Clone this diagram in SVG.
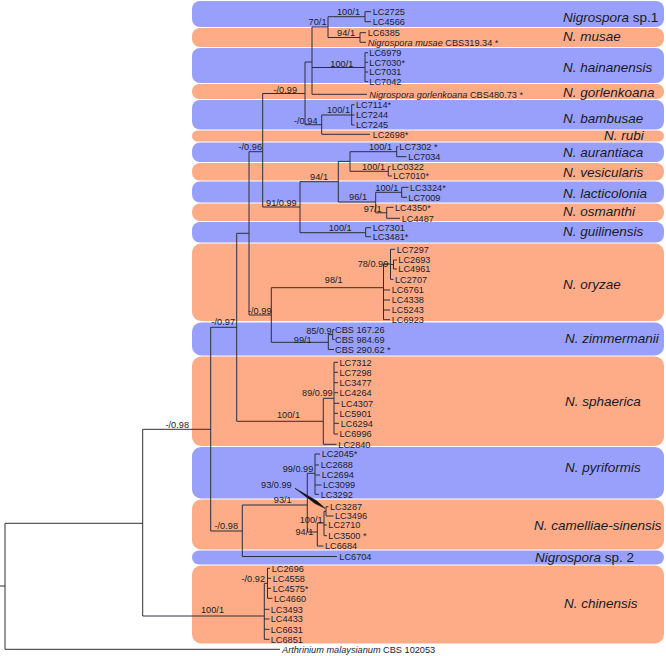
<svg xmlns="http://www.w3.org/2000/svg" width="666" height="656" viewBox="0 0 666 656">
<style>
.b{fill:#98a0fc}.o{fill:#fdac87}
.sp{font-family:"Liberation Sans",Arial,sans-serif;font-size:13.5px;font-style:italic;fill:#1a1a24}
.up{font-style:normal}
.lf{font-family:"Liberation Sans",Arial,sans-serif;font-size:9.2px;fill:#1c1c2c}
.sv{font-family:"Liberation Sans",Arial,sans-serif;font-size:9.2px;fill:#1c1c1c;text-anchor:end}
.it{font-style:italic}
.t{stroke:#2e2e3a;stroke-width:1;fill:none}
</style>
<rect width="666" height="656" fill="#fff"/>
<g id="bands">
<g id="nigrospora-sp1"><rect class="b" x="192" y="1" width="472" height="26" rx="8"/><text class="sp" x="563" y="21.8">Nigrospora<tspan class="up"> sp.1</tspan></text></g>
<g id="n-musae"><rect class="o" x="192" y="28" width="472" height="19" rx="8"/><text class="sp" x="563" y="40.8">N. musae</text></g>
<g id="n-hainanensis"><rect class="b" x="192" y="48" width="472" height="35" rx="8"/><text class="sp" x="563" y="71.8">N. hainanensis</text></g>
<g id="n-gorlenkoana"><rect class="o" x="192" y="84" width="472" height="15" rx="7"/><text class="sp" x="563" y="96.8">N. gorlenkoana</text></g>
<g id="n-bambusae"><rect class="b" x="192" y="100" width="472" height="29.5" rx="8"/><text class="sp" x="563" y="122.8">N. bambusae</text></g>
<g id="n-rubi"><rect class="o" x="192" y="130.5" width="472" height="11" rx="5.5"/><text class="sp" x="604" y="139.8">N. rubi</text></g>
<g id="n-aurantiaca"><rect class="b" x="192" y="142.5" width="472" height="19.5" rx="8"/><text class="sp" x="563" y="156.8">N. aurantiaca</text></g>
<g id="n-vesicularis"><rect class="o" x="192" y="163" width="472" height="17.5" rx="8"/><text class="sp" x="563" y="176.8">N. vesicularis</text></g>
<g id="n-lacticolonia"><rect class="b" x="192" y="181.5" width="472" height="21" rx="8"/><text class="sp" x="563" y="197.8">N. lacticolonia</text></g>
<g id="n-osmanthi"><rect class="o" x="192" y="203.5" width="472" height="17.5" rx="8"/><text class="sp" x="563" y="215.8">N. osmanthi</text></g>
<g id="n-guilinensis"><rect class="b" x="192" y="222" width="472" height="20.5" rx="8"/><text class="sp" x="563" y="235.8">N. guilinensis</text></g>
<g id="n-oryzae"><rect class="o" x="192" y="243.5" width="472" height="77.5" rx="9"/><text class="sp" x="563" y="288.8">N. oryzae</text></g>
<g id="n-zimmermanii"><rect class="b" x="192" y="322.5" width="472" height="33" rx="9"/><text class="sp" x="565" y="342.8">N. zimmermanii</text></g>
<g id="n-sphaerica"><rect class="o" x="192" y="356.5" width="472" height="89.5" rx="9"/><text class="sp" x="565" y="405.8">N. sphaerica</text></g>
<g id="n-pyriformis"><rect class="b" x="192" y="447" width="472" height="51.5" rx="9"/><text class="sp" x="565" y="471.8">N. pyriformis</text></g>
<g id="n-camelliae-sinensis"><rect class="o" x="192" y="499.5" width="472" height="50" rx="9"/><text class="sp" x="534" y="529.8">N. camelliae-sinensis</text></g>
<g id="nigrospora-sp2"><rect class="b" x="192" y="550.5" width="472" height="14" rx="7"/><text class="sp" x="535" y="561.8">Nigrospora<tspan class="up"> sp. 2</tspan></text></g>
<g id="n-chinensis"><rect class="o" x="192" y="565.5" width="472" height="78" rx="9"/><text class="sp" x="564" y="607.8">N. chinensis</text></g>
</g>
<g id="connectors" class="t">
<path d="M0,586H5M5,523.3V649.3M5,523.3H142.7M5,649.3H280"/>
<path d="M142.7,429.3V616M142.7,429.3H210.7M142.7,616H264.3"/>
<path d="M210.7,327.3V531M210.7,327.3H236.7M210.7,531H242.3"/>
<path d="M236.7,233.3V421.3M236.7,233.3H249M236.7,421.3H323.3"/>
<path d="M249,151.7V315M249,151.7H262.7M249,315H271.3"/>
<path d="M262.7,93.5V207M262.7,93.5H305M262.7,207H300"/>
<path d="M305,62V124.7M305,62H312M305,124.7H321.7"/>
<path d="M312,27V94.3M312,27H328M312,67.5H365M312,94.3H367"/>
<path d="M328,16.7V37.5M328,16.7H365M328,37.5H360"/>
<path d="M365,11.7V21.7M365,11.7H371M365,21.7H371"/>
<path d="M360,32.7V42.3M360,32.7H366M360,42.3H366"/>
<path d="M365,52.7V81.7M365,52.7H368M365,62.3H368M365,72H368M365,81.7H368"/>
<path d="M321.7,115V134.3M321.7,115H351.7M321.7,134.3H370"/>
<path d="M351.7,104.7V125M351.7,104.7H354.5M351.7,115H354.5M351.7,125H354.5"/>
<path d="M300,181.7V232.7M300,181.7H338.3M300,232.7H365.7"/>
<path d="M365.7,227.7V236.7M365.7,227.7H371M365.7,236.7H371"/>
<path d="M338.3,161.4V202M338.3,161.4H350M338.3,202H375.7"/>
<path d="M350,151.7V171.3M350,151.7H396.7M350,171.3H388.3"/>
<path d="M396.7,146.7V156.7M396.7,146.7H398.3M396.7,156.7H406.5"/>
<path d="M388.3,166.7V176M388.3,166.7H390.5M388.3,176H392"/>
<path d="M375.7,192.3V212.8M375.7,192.3H401.7M375.7,212.8H386.7"/>
<path d="M401.7,187.3V197.3M401.7,187.3H408.5M401.7,197.3H407"/>
<path d="M386.7,207.3V218.3M386.7,207.3H393.5M386.7,218.3H400"/>
<path d="M271.3,287.7V342.3M271.3,287.7H383.5M271.3,342.3H328.3"/>
<path d="M383.5,264V319.7M383.5,264H390.5M383.5,290H390M383.5,300H390M383.5,310H390M383.5,319.7H390"/>
<path d="M390.5,249.3V279.3M390.5,249.3H395M390.5,264.5H393.5M390.5,279.3H393.5"/>
<path d="M393.5,260V269M393.5,260H397M393.5,269H397"/>
<path d="M328.3,334.6V349.5M328.3,334.6H332.7M328.3,349.5H334"/>
<path d="M332.7,329.7V339.5M332.7,329.7H334.5M332.7,339.5H334.5"/>
<path d="M323.3,398.3V444.3M323.3,398.3H334M323.3,444.3H336.5"/>
<path d="M334,362.3V434M334,362.3H338M334,372.3H338M334,382.7H338M334,392.7H338M334,403.3H339.5M334,413.3H338M334,423.3H339M334,434H338"/>
<path d="M242.3,505V556.5M242.3,505H307.3M242.3,556.5H337"/>
<path d="M307.3,473.3V532M307.3,473.3H315M307.3,532H317.3"/>
<path d="M315,454V494.3M315,454H320M315,465H319M315,475H320M315,485H321.5M315,494.3H319"/>
<path d="M317.3,523V546M317.3,523H324M317.3,546H323.5"/>
<path d="M324,511.3V535.7M324,511.3H326M324,525H327M324,535.7H327"/>
<path d="M326,506.7V516M326,506.7H328.5M326,516H333.5"/>
<path d="M264.3,583.3V639.3M264.3,583.3H267.5M264.3,609.3H269.5M264.3,619H269.5M264.3,629.3H269.5M264.3,639.3H269.5"/>
<path d="M267.5,568.3V598.3M267.5,568.3H270M267.5,578.3H271M267.5,588.3H271M267.5,598.3H272.5"/>
<polygon points="295,488.3 315.1,503.6 325,508.3 316.9,501" fill="#111" stroke="#111" stroke-width="0.6"/>
</g>
<g id="leaves" class="lf">
<text x="372.7" y="15">LC2725</text>
<text x="372.7" y="25">LC4566</text>
<text x="367.7" y="36">LC6385</text>
<text x="367.7" y="45.6"><tspan class="it">Nigrospora musae</tspan> CBS319.34 *</text>
<text x="369.3" y="56">LC6979</text>
<text x="369.3" y="65.6">LC7030*</text>
<text x="369.3" y="75.3">LC7031</text>
<text x="369.3" y="85">LC7042</text>
<text x="369.3" y="97.6"><tspan class="it">Nigrospora gorlenkoana</tspan> CBS480.73 *</text>
<text x="356" y="108">LC7114*</text>
<text x="356" y="118.3">LC7244</text>
<text x="356" y="128.3">LC7245</text>
<text x="372.7" y="137.6">LC2698*</text>
<text x="399.3" y="150">LC7302 *</text>
<text x="408.3" y="160">LC7034</text>
<text x="391.7" y="170">LC0322</text>
<text x="393.3" y="179.3">LC7010*</text>
<text x="410" y="190.6">LC3324*</text>
<text x="408.3" y="200.6">LC7009</text>
<text x="395" y="210.6">LC4350*</text>
<text x="401.7" y="221.6">LC4487</text>
<text x="372.7" y="231">LC7301</text>
<text x="372.7" y="240">LC3481*</text>
<text x="396.7" y="252.6">LC7297</text>
<text x="398.3" y="263.3">LC2693</text>
<text x="398.3" y="272.3">LC4961</text>
<text x="395" y="282.6">LC2707</text>
<text x="391.7" y="293.3">LC6761</text>
<text x="391.7" y="303.3">LC4338</text>
<text x="391.7" y="313.3">LC5243</text>
<text x="391.7" y="323">LC6923</text>
<text x="335" y="333">CBS 167.26</text>
<text x="335" y="342.8">CBS 984.69</text>
<text x="335" y="352.8">CBS 290.62 *</text>
<text x="339.5" y="365.6">LC7312</text>
<text x="339.5" y="375.6">LC7298</text>
<text x="339.5" y="386">LC3477</text>
<text x="339.5" y="396">LC4264</text>
<text x="341" y="406.6">LC4307</text>
<text x="339.5" y="416.6">LC5901</text>
<text x="340.7" y="426.6">LC6294</text>
<text x="339.5" y="437.3">LC6996</text>
<text x="338.3" y="447.6">LC2840</text>
<text x="321.7" y="457.3">LC2045*</text>
<text x="320.7" y="468.3">LC2688</text>
<text x="321.7" y="478.3">LC2694</text>
<text x="323" y="488.3">LC3099</text>
<text x="320.7" y="497.6">LC3292</text>
<text x="330" y="510">LC3287</text>
<text x="335" y="519.3">LC3496</text>
<text x="328.3" y="528.3">LC2710</text>
<text x="328.3" y="539">LC3500 *</text>
<text x="325" y="549.3">LC6684</text>
<text x="339.3" y="559.8">LC6704</text>
<text x="271.7" y="571.6">LC2696</text>
<text x="272.7" y="581.6">LC4558</text>
<text x="272.7" y="591.6">LC4575*</text>
<text x="274" y="601.6">LC4660</text>
<text x="270.7" y="612.6">LC3493</text>
<text x="270.7" y="622.3">LC4433</text>
<text x="270.7" y="632.6">LC6631</text>
<text x="270.7" y="642.6">LC6851</text>
<text x="282" y="652.6"><tspan class="it">Arthrinium malaysianum</tspan> CBS 102053</text>
</g>
<g id="support" class="sv">
<text x="360" y="15">100/1</text>
<text x="326.5" y="25">70/1</text>
<text x="355" y="36">94/1</text>
<text x="353.3" y="66.5">100/1</text>
<text x="297" y="92.5">-/0.99</text>
<text x="350" y="113.3">100/1</text>
<text x="317.5" y="123.5">-/0.94</text>
<text x="262" y="150">-/0.96</text>
<text x="392" y="150">100/1</text>
<text x="385" y="170">100/1</text>
<text x="328" y="180">94/1</text>
<text x="398.3" y="190.6">100/1</text>
<text x="367" y="200">96/1</text>
<text x="296.7" y="206">91/0.99</text>
<text x="381.7" y="211.6">97/1</text>
<text x="351.7" y="231">100/1</text>
<text x="388.3" y="266.6">78/0.99</text>
<text x="342.7" y="283.3">98/1</text>
<text x="271.5" y="314">-/0.99</text>
<text x="235" y="325">-/0.97</text>
<text x="331.7" y="333.5">85/0.9</text>
<text x="311.7" y="343.3">99/1</text>
<text x="332.7" y="396">89/0.99</text>
<text x="300" y="418.3">100/1</text>
<text x="189" y="428.3">-/0.98</text>
<text x="313.3" y="471.6">99/0.99</text>
<text x="291.7" y="487.6">93/0.99</text>
<text x="291.7" y="503.3">93/1</text>
<text x="322.7" y="523.3">100/1</text>
<text x="313.3" y="535">94/1</text>
<text x="238" y="529">-/0.98</text>
<text x="265" y="581.6">-/0.92</text>
<text x="224" y="613.3">100/1</text>
</g>
</svg>
